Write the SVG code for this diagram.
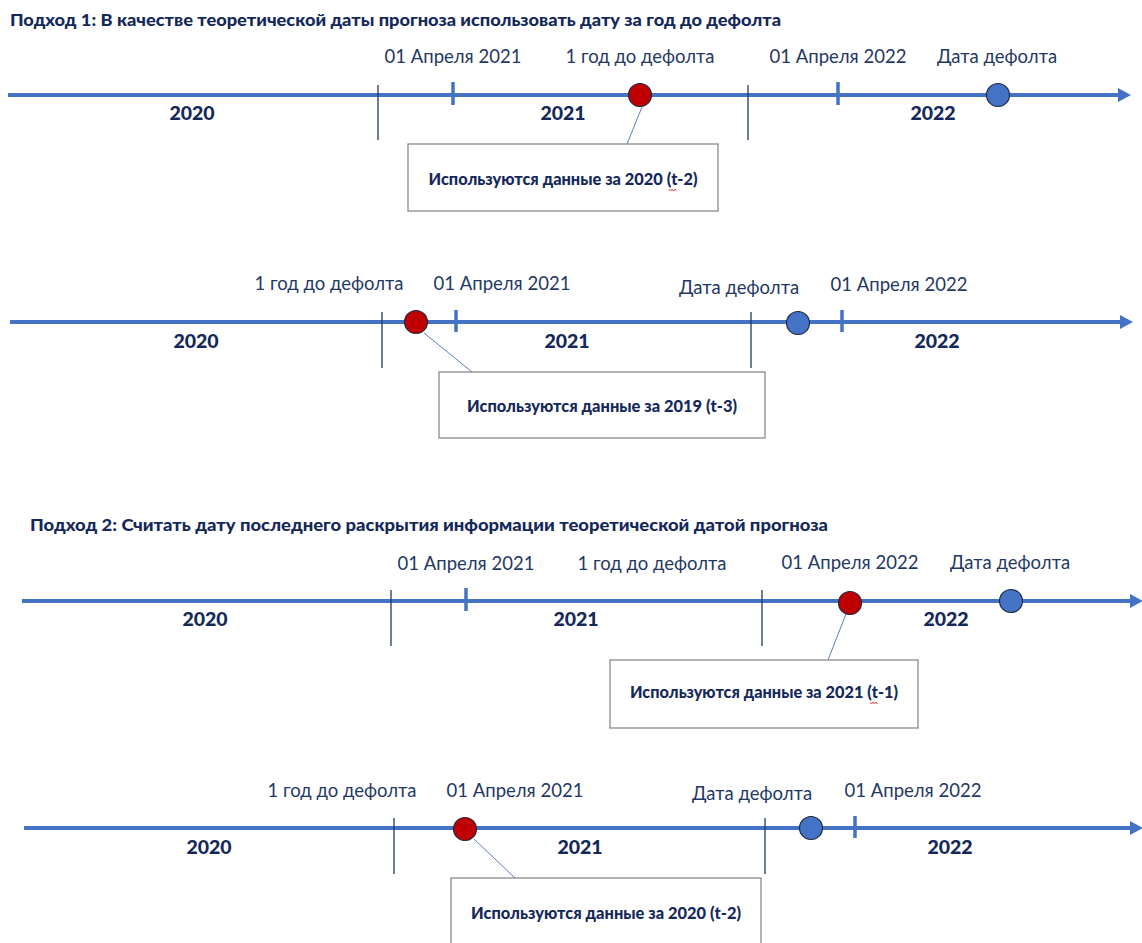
<svg xmlns="http://www.w3.org/2000/svg" width="1142" height="943" viewBox="0 0 1142 943">
<defs>
<style>
.axis{stroke:#4472c4;stroke-width:4;fill:none}
.head{fill:#4472c4}
.sep{stroke:#1f3864;stroke-width:1.3}
.tick{stroke:#4472c4;stroke-width:3.5}
.red{fill:#c00000;stroke:#1f2a44;stroke-width:1.2}
.blue{fill:#4472c4;stroke:#1f2a44;stroke-width:1.2}
.lbl{font-family:Lato,"Liberation Sans",sans-serif;font-size:18.5px;fill:#1f3864;text-anchor:middle}
.yr{font-family:Lato,"Liberation Sans",sans-serif;font-size:19.5px;font-weight:900;fill:#14285a;text-anchor:middle}
.ttl{font-family:Lato,"Liberation Sans",sans-serif;font-size:17px;font-weight:900;fill:#14285a}
.box{fill:#ffffff;stroke:#808080;stroke-width:1.2}
.btxt{font-family:Lato,"Liberation Sans",sans-serif;font-size:16px;font-weight:900;fill:#14285a;text-anchor:middle}
.conn{stroke:#5b7fc4;stroke-width:1;fill:none}
.sq{stroke:#e03030;stroke-width:0.9;fill:none}
</style>
</defs>

<g id="title1"><text class="ttl" x="10" y="26" textLength="771" lengthAdjust="spacingAndGlyphs">Подход 1: В качестве теоретической даты прогноза использовать дату за год до дефолта</text></g>
<g id="title2"><text class="ttl" x="30" y="531" textLength="798" lengthAdjust="spacingAndGlyphs">Подход 2: Считать дату последнего раскрытия информации теоретической датой прогноза</text></g>

<!-- Timeline 1 -->
<g id="timeline1">
<line class="axis" x1="8" y1="95" x2="1120" y2="95"/>
<polygon class="head" points="1118,88 1131,95 1118,102"/>
<line class="sep" x1="378" y1="85" x2="378" y2="140"/>
<line class="sep" x1="748" y1="85" x2="748" y2="140"/>
<line class="tick" x1="453" y1="82" x2="453" y2="105"/>
<line class="tick" x1="838" y1="82" x2="838" y2="105"/>
<text class="lbl" x="453" y="63">01 Апреля 2021</text>
<text class="lbl" x="640" y="63">1 год до дефолта</text>
<text class="lbl" x="838" y="63">01 Апреля 2022</text>
<text class="lbl" x="997" y="63">Дата дефолта</text>
<text class="yr" x="192" y="120">2020</text>
<text class="yr" x="563" y="120">2021</text>
<text class="yr" x="933" y="120">2022</text>
</g>
<g id="box1">
<rect class="box" x="408" y="144" width="310" height="67"/>
<text class="btxt" x="563" y="185" textLength="269" lengthAdjust="spacingAndGlyphs">Используются данные за 2020 (t-2)</text>
<path class="sq" d="M669,189 l1.5,2 l1.5,-2 l1.5,2 l1.5,-2 l1.5,2"/>
</g>

<!-- Timeline 2 -->
<g id="timeline2">
<line class="axis" x1="10" y1="322" x2="1122" y2="322"/>
<polygon class="head" points="1120,315 1133,322 1120,329"/>
<line class="sep" x1="382" y1="312" x2="382" y2="368"/>
<line class="sep" x1="751" y1="312" x2="751" y2="368"/>
<line class="tick" x1="456" y1="310" x2="456" y2="332"/>
<line class="tick" x1="842" y1="310" x2="842" y2="332"/>
<text class="lbl" x="329" y="290">1 год до дефолта</text>
<text class="lbl" x="502" y="290">01 Апреля 2021</text>
<text class="lbl" x="739" y="294">Дата дефолта</text>
<text class="lbl" x="899" y="291">01 Апреля 2022</text>
<text class="yr" x="196" y="348">2020</text>
<text class="yr" x="567" y="348">2021</text>
<text class="yr" x="937" y="348">2022</text>
</g>
<g id="box2">
<rect class="box" x="439" y="372" width="326" height="66"/>
<text class="btxt" x="602" y="412" textLength="270" lengthAdjust="spacingAndGlyphs">Используются данные за 2019 (t-3)</text>
</g>

<!-- Timeline 3 -->
<g id="timeline3">
<line class="axis" x1="22" y1="601" x2="1132" y2="601"/>
<polygon class="head" points="1130,594 1143,601 1130,608"/>
<line class="sep" x1="391" y1="590" x2="391" y2="646"/>
<line class="sep" x1="762" y1="590" x2="762" y2="646"/>
<line class="tick" x1="466" y1="588" x2="466" y2="611"/>
<text class="lbl" x="466" y="570">01 Апреля 2021</text>
<text class="lbl" x="652" y="570">1 год до дефолта</text>
<text class="lbl" x="850" y="569">01 Апреля 2022</text>
<text class="lbl" x="1010" y="569">Дата дефолта</text>
<text class="yr" x="205" y="626">2020</text>
<text class="yr" x="576" y="626">2021</text>
<text class="yr" x="946" y="626">2022</text>
</g>
<g id="box3">
<rect class="box" x="610" y="660" width="308" height="68"/>
<text class="btxt" x="764" y="698" textLength="268" lengthAdjust="spacingAndGlyphs">Используются данные за 2021 (t-1)</text>
<path class="sq" d="M870,702 l1.5,2 l1.5,-2 l1.5,2 l1.5,-2 l1.5,2"/>
</g>

<!-- Timeline 4 -->
<g id="timeline4">
<line class="axis" x1="24" y1="828" x2="1132" y2="828"/>
<polygon class="head" points="1130,821 1143,828 1130,835"/>
<line class="sep" x1="394" y1="818" x2="394" y2="874"/>
<line class="sep" x1="765" y1="818" x2="765" y2="874"/>
<line class="tick" x1="855" y1="816" x2="855" y2="838"/>
<text class="lbl" x="342" y="797">1 год до дефолта</text>
<text class="lbl" x="515" y="797">01 Апреля 2021</text>
<text class="lbl" x="752" y="800">Дата дефолта</text>
<text class="lbl" x="913" y="797">01 Апреля 2022</text>
<text class="yr" x="209" y="854">2020</text>
<text class="yr" x="580" y="854">2021</text>
<text class="yr" x="950" y="854">2022</text>
</g>
<g id="box4">
<rect class="box" x="451" y="878" width="310" height="80"/>
<text class="btxt" x="606" y="919" textLength="270" lengthAdjust="spacingAndGlyphs">Используются данные за 2020 (t-2)</text>
</g>

<g id="connectors">
<line class="conn" x1="642" y1="107" x2="627" y2="144"/>
<line class="conn" x1="424" y1="333" x2="472" y2="372"/>
<line class="conn" x1="846" y1="614" x2="828" y2="660"/>
<line class="conn" x1="474" y1="839" x2="515" y2="878"/>
</g>

<g id="markers">
<circle class="red" cx="640" cy="95" r="11.5"/>
<circle class="blue" cx="998" cy="95" r="11.5"/>
<circle class="red" cx="416" cy="322" r="11.5"/>
<circle class="blue" cx="798" cy="323" r="11.5"/>
<circle class="red" cx="850" cy="603" r="11.5"/>
<circle class="blue" cx="1011" cy="601" r="11.5"/>
<circle class="red" cx="465" cy="829" r="11.5"/>
<circle class="blue" cx="811" cy="828" r="11.5"/>
</g>
</svg>
